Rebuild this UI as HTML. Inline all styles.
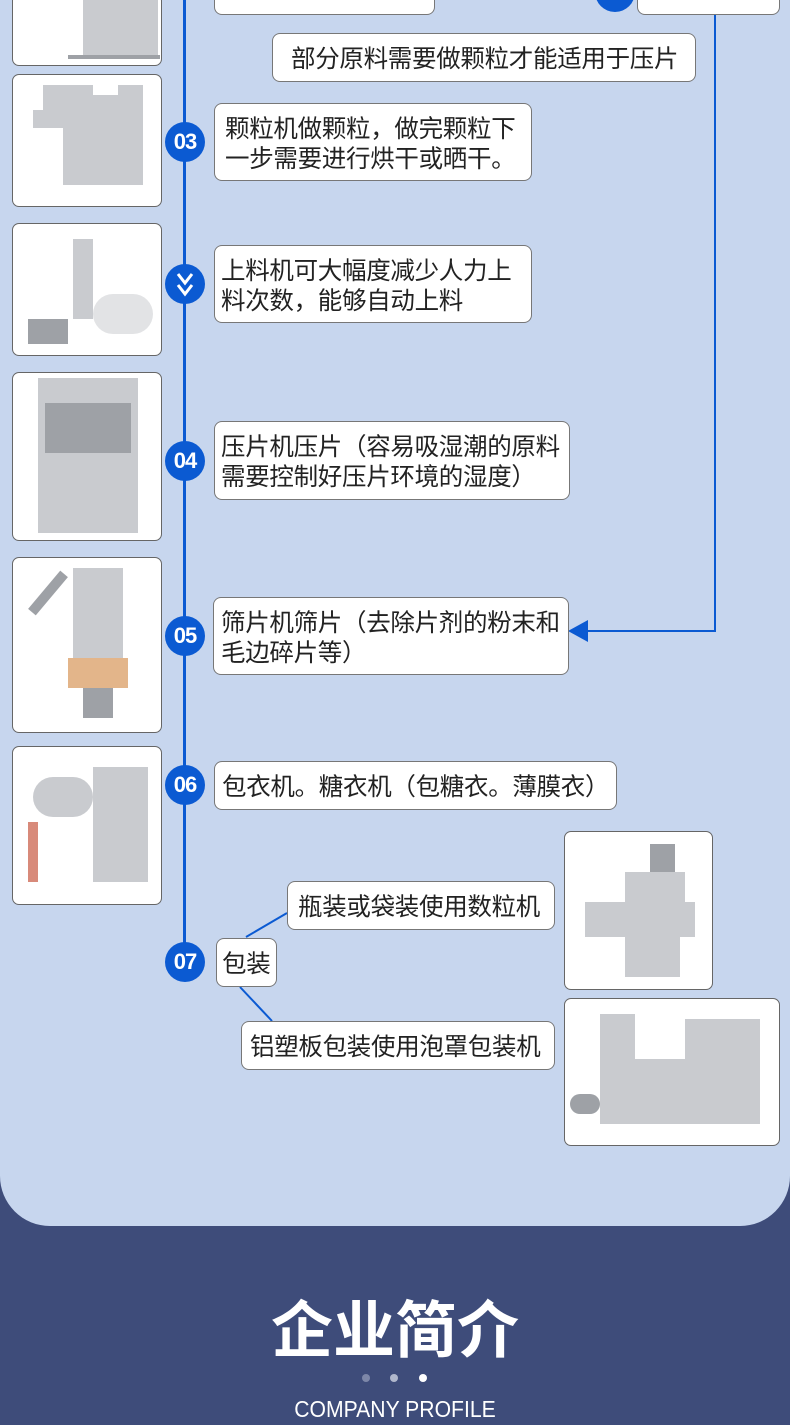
<!DOCTYPE html>
<html><head><meta charset="utf-8"><style>
*{margin:0;padding:0;box-sizing:border-box}
body{width:790px;height:1425px;overflow:hidden;background:#3e4c7a;position:relative;font-family:"Liberation Sans","Noto Sans CJK SC",sans-serif}
.lt{position:absolute;left:0;top:0;width:790px;height:1226px;background:#c7d6ee;border-radius:0 0 50px 50px}
.b{position:absolute;background:#fff;border:1px solid #777;border-radius:8px;font-family:"Noto Sans CJK SC",sans-serif;font-size:24.5px;color:#222;line-height:30px;padding:9px 0 0 8px;white-space:nowrap;letter-spacing:-0.3px}
.c{position:absolute;width:40px;height:40px;border-radius:50%;background:#0b5ad2;color:#fff;font-weight:bold;font-size:22px;text-align:center;line-height:40px;margin:-20px 0 0 -20px;letter-spacing:-1px}
.im{position:absolute;background:#fff;border:1px solid #666;border-radius:7px;overflow:hidden}
.m{position:absolute;background:#c9cbcf}
.d{position:absolute;background:#9ea1a6}
.vl{position:absolute;background:#0b5ad2}
</style></head><body>
<div class="lt"></div>
<div class="vl" style="left:183px;top:0;width:3px;height:962px"></div>
<div class="vl" style="left:714px;top:0;width:2px;height:632px"></div>
<div class="vl" style="left:585px;top:630px;width:131px;height:2px"></div>
<svg style="position:absolute;left:568px;top:620px" width="20" height="22"><polygon points="0,11 20,0 20,22" fill="#0b5ad2"/></svg>
<svg style="position:absolute;left:0;top:0" width="790" height="1100"><line x1="246" y1="937" x2="287" y2="913" stroke="#0b5ad2" stroke-width="2"/><line x1="240" y1="987" x2="272" y2="1021" stroke="#0b5ad2" stroke-width="2"/></svg>

<div class="im" style="left:12px;top:-6px;width:150px;height:72px"><div class="m" style="left:70px;top:0;width:75px;height:60px"></div><div class="d" style="left:55px;top:60px;width:92px;height:4px"></div></div>
<div class="im" style="left:12px;top:74px;width:150px;height:133px"><div class="m" style="left:30px;top:10px;width:50px;height:30px"></div><div class="m" style="left:20px;top:35px;width:80px;height:18px"></div><div class="m" style="left:50px;top:20px;width:55px;height:90px"></div><div class="m" style="left:105px;top:10px;width:25px;height:100px"></div></div>
<div class="im" style="left:12px;top:223px;width:150px;height:133px"><div class="m" style="left:60px;top:15px;width:20px;height:80px"></div><div class="d" style="left:15px;top:95px;width:40px;height:25px"></div><div class="m" style="left:80px;top:70px;width:60px;height:40px;border-radius:20px;background:#e2e3e5"></div></div>
<div class="im" style="left:12px;top:372px;width:150px;height:169px"><div class="m" style="left:25px;top:5px;width:100px;height:100px"></div><div class="d" style="left:32px;top:30px;width:86px;height:50px"></div><div class="m" style="left:25px;top:105px;width:100px;height:55px"></div></div>
<div class="im" style="left:12px;top:557px;width:150px;height:176px"><div class="m" style="left:60px;top:10px;width:50px;height:90px"></div><div class="d" style="left:10px;top:30px;width:50px;height:10px;transform:rotate(-50deg)"></div><div class="m" style="left:55px;top:100px;width:60px;height:30px;background:#e3b58a"></div><div class="d" style="left:70px;top:130px;width:30px;height:30px"></div></div>
<div class="im" style="left:12px;top:746px;width:150px;height:159px"><div class="m" style="left:20px;top:30px;width:60px;height:40px;border-radius:30px"></div><div class="m" style="left:80px;top:20px;width:55px;height:115px"></div><div class="d" style="left:15px;top:75px;width:10px;height:60px;background:#d88a7a"></div></div>
<div class="im" style="left:564px;top:831px;width:149px;height:159px"><div class="m" style="left:60px;top:40px;width:60px;height:40px"></div><div class="m" style="left:20px;top:70px;width:110px;height:35px"></div><div class="m" style="left:60px;top:100px;width:55px;height:45px"></div><div class="d" style="left:85px;top:12px;width:25px;height:28px"></div></div>
<div class="im" style="left:564px;top:998px;width:216px;height:148px"><div class="m" style="left:35px;top:15px;width:35px;height:45px"></div><div class="m" style="left:35px;top:60px;width:160px;height:65px"></div><div class="m" style="left:120px;top:20px;width:75px;height:40px"></div><div class="d" style="left:5px;top:95px;width:30px;height:20px;border-radius:10px"></div></div>

<div class="b" style="left:214px;top:-12px;width:221px;height:27px"></div>
<div class="c" style="left:615px;top:-8px"></div>
<div class="b" style="left:637px;top:-12px;width:143px;height:27px"></div>
<div class="b" style="left:272px;top:33px;width:424px;height:49px;padding-left:18px">部分原料需要做颗粒才能适用于压片</div>
<div class="c" style="left:185px;top:142px">03</div>
<div class="b" style="left:214px;top:103px;width:318px;height:78px;padding-left:10px">颗粒机做颗粒，做完颗粒下<br>一步需要进行烘干或晒干。</div>
<div class="c" style="left:185px;top:284px"><svg width="40" height="40" style="position:absolute;left:0;top:0"><polyline points="13,10 20,19 27,10" fill="none" stroke="#fff" stroke-width="3"/><polyline points="13,21 20,30 27,21" fill="none" stroke="#fff" stroke-width="3"/></svg></div>
<div class="b" style="left:214px;top:245px;width:318px;height:78px;padding-left:6px">上料机可大幅度减少人力上<br>料次数，能够自动上料</div>
<div class="c" style="left:185px;top:461px">04</div>
<div class="b" style="left:214px;top:421px;width:356px;height:79px;padding-left:6px">压片机压片（容易吸湿潮的原料<br>需要控制好压片环境的湿度）</div>
<div class="c" style="left:185px;top:636px">05</div>
<div class="b" style="left:213px;top:597px;width:356px;height:78px;padding-left:7px">筛片机筛片（去除片剂的粉末和<br>毛边碎片等）</div>
<div class="c" style="left:185px;top:785px">06</div>
<div class="b" style="left:214px;top:761px;width:403px;height:49px;padding-left:7px">包衣机。糖衣机（包糖衣。薄膜衣）</div>
<div class="c" style="left:185px;top:962px">07</div>
<div class="b" style="left:216px;top:938px;width:61px;height:49px;padding-left:5px">包装</div>
<div class="b" style="left:287px;top:881px;width:268px;height:49px;padding-left:10px">瓶装或袋装使用数粒机</div>
<div class="b" style="left:241px;top:1021px;width:314px;height:49px;padding-left:8px">铝塑板包装使用泡罩包装机</div>

<div style="position:absolute;left:0;top:1285px;width:790px;text-align:center;color:#fff;font-family:'Noto Sans CJK SC',sans-serif;font-size:62px;font-weight:bold;line-height:80px">企业简介</div>
<div style="position:absolute;left:362px;top:1374px;width:8px;height:8px;border-radius:50%;background:#7d87a8"></div>
<div style="position:absolute;left:390px;top:1374px;width:8px;height:8px;border-radius:50%;background:#b0b7cc"></div>
<div style="position:absolute;left:419px;top:1374px;width:8px;height:8px;border-radius:50%;background:#fff"></div>
<div style="position:absolute;left:0;top:1394px;width:790px;text-align:center;color:#fff;font-size:23px;line-height:30px;transform:scaleX(0.92)">COMPANY PROFILE</div>
</body></html>
